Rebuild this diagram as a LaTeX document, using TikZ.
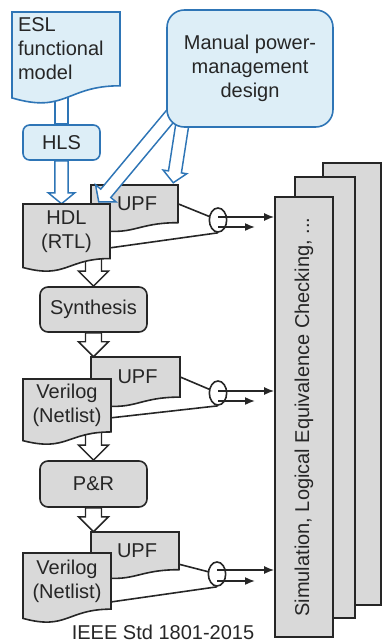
\documentclass[tikz,border=0pt]{standalone}
\usepackage{fontspec}
\setmainfont{Liberation Sans}
\usetikzlibrary{shapes.geometric,calc,arrows.meta}

\definecolor{flowgrey}{RGB}{217,217,217}
\definecolor{flowblue}{RGB}{46,117,182}
\definecolor{flowsky}{RGB}{221,238,247}
\definecolor{flowink}{RGB}{38,38,38}

\pgfdeclarelayer{back}
\pgfdeclarelayer{fore}
\pgfsetlayers{back,main,fore}

\tikzset{
  greyshape/.style={draw=flowink, fill=flowgrey, line width=1.2pt},
  blueshape/.style={draw=flowblue, fill=flowsky, line width=1.2pt},
  greyhollow/.style={draw=flowink, fill=white, line width=1.1pt},
  bluehollow/.style={draw=flowblue, fill=white, line width=1.1pt},
  boxtext/.style={font=\fontsize{15}{18}\selectfont, text=flowink, align=center, inner sep=0pt},
  procbox/.style={greyshape, boxtext, rounded corners=6pt},
  stackbox/.style={greyshape, boxtext, rectangle},
  joint/.style={ellipse, draw=flowink, fill=white, line width=1.2pt, minimum width=13pt, minimum height=18pt, inner sep=0pt},
  flowline/.style={draw=flowink, line width=1.2pt},
  flowarrow/.style={flowline, -{Latex[length=7.5pt,width=6pt]}},
}

% document outline: style, left, top, right, height
\newcommand{\docshape}[5]{%
  \filldraw[#1] (#2,#3) -- (#4,#3) -- (#4,{#3+0.802*#5})
    .. controls ({(#2+#4)/2},{#3+0.802*#5}) and ({(#2+#4)/2},{#3+1.107*#5}) .. (#2,{#3+0.934*#5}) -- cycle;}

% hollow block arrow: style, from, to, shaft half-width, head half-width, head length
\newcommand{\blockarrow}[6]{%
  \coordinate (ba-base) at ($(#3)!#6!(#2)$);
  \filldraw[#1] ($(#2)!#4!90:(#3)$) -- ($(ba-base)!#4!90:(#3)$) -- ($(ba-base)!#5!90:(#3)$) -- (#3)
    -- ($(ba-base)!#5!-90:(#3)$) -- ($(ba-base)!#4!-90:(#3)$) -- ($(#2)!#4!-90:(#3)$) -- cycle;}

\begin{document}
\begin{tikzpicture}[x=0.75pt,y=0.75pt,yscale=-1,xscale=1]
    \useasboundingbox (0,0) rectangle (382,643);

    %Shape: stacked tool boxes
    \node[stackbox, minimum width=331.5pt, minimum height=43.5pt, rotate=90] (stackC) at (352,384) {};
    \node[stackbox, minimum width=330.75pt, minimum height=45pt, rotate=90] (stackB) at (325,397.5) {};
    \node[stackbox, minimum width=330pt, minimum height=43.5pt, rotate=90] (front) at (304,417) {Simulation, Logical Equivalence Checking, ...};

    %Shape: ESL document
    \docshape{blueshape}{12}{12}{120}{92}
    \node[boxtext, align=left, text width=72pt, minimum height=55.3pt] (esl) at (66,48.9) {ESL\\functional\\model};
    %Shape: HLS
    \node[boxtext, blueshape, rounded corners=5pt, minimum width=57.75pt, minimum height=26.25pt] (hls) at (61.5,142.5) {HLS};

    %Shape: manual design (kept on top of its arrows)
    \begin{pgfonlayer}{fore}
    \node[boxtext, blueshape, rounded corners=13pt, minimum width=124.5pt, minimum height=87.75pt] (manual) at (250,68.5) {Manual power-\\management\\design};
    \end{pgfonlayer}

    %Shape: tool steps
    \node[procbox, minimum width=80.25pt, minimum height=33.75pt] (synth) at (93.5,309.5) {Synthesis};
    \node[procbox, minimum width=80.25pt, minimum height=34.5pt] (pr) at (93.5,484) {P\&R};

    %Shape: UPF + HDL
    \docshape{greyshape}{91}{185}{178}{47}
    \node[boxtext, minimum width=61.5pt, minimum height=28.3pt] (upfA) at (137,203.9) {UPF};
    \docshape{greyshape}{23}{204}{110}{68}
    \node[boxtext, minimum width=65.25pt, minimum height=40.9pt] (hdl) at (66.5,231.3) {HDL\\(RTL)};

    %Block arrows: manual design into UPF
    \coordinate (tipA) at ($(upfA.north west)+(3,17)$);
    \coordinate (tipB) at ($(upfA.north east)+(-5,-2)$);
    \coordinate (rootA) at ($(manual.212)!-12pt!(tipA)$);
    \coordinate (rootB) at ($(manual.221)!-12pt!(tipB)$);
    \blockarrow{bluehollow}{rootA}{tipA}{4.9pt}{10pt}{8.25pt}
    \blockarrow{bluehollow}{rootB}{tipB}{4.9pt}{9pt}{8.25pt}

    %Shape: UPF + netlist after synthesis
    \docshape{greyshape}{91}{357}{180}{50}
    \node[boxtext, minimum width=63.75pt, minimum height=30pt] (upfB) at (137.5,377) {UPF};
    \docshape{greyshape}{23}{379}{111}{66}
    \node[boxtext, minimum width=66pt, minimum height=39.7pt] (verA) at (67,405.5) {Verilog\\(Netlist)};

    %Shape: UPF + netlist after P&R
    \docshape{greyshape}{91}{532}{179}{47}
    \node[boxtext, minimum width=63pt, minimum height=28.3pt] (upfC) at (137,550.9) {UPF};
    \docshape{greyshape}{23}{553}{111}{70}
    \node[boxtext, minimum width=66pt, minimum height=42pt] (verB) at (67,581) {Verilog\\(Netlist)};

    %Shape: joints
    \node[joint] (ellA) at (218,220) {};
    \node[joint] (ellB) at (218,393) {};
    \node[joint] (ellC) at (217,574) {};

    %Arrows: out to the tools (front.north is its left side)
    \coordinate (outA) at ($(ellA.center)+(0,-3)$);
    \coordinate (outB) at ($(ellB.center)+(0,-2)$);
    \coordinate (outC) at ($(ellC.center)+(0,-4)$);
    \draw[flowarrow] (outA) -- (outA -| front.north);
    \draw[flowarrow] ($(ellA.center)+(0,7)$) -- ++(37,0);
    \draw[flowarrow] (outB) -- (outB -| front.north);
    \draw[flowarrow] ($(ellB.center)+(0,8)$) -- ++(37,0);
    \draw[flowarrow] (outC) -- (outC -| front.north);
    \draw[flowarrow] ($(ellC.center)+(0,7)$) -- ++(38,0);

    \node[boxtext] (caption) at (163,632) {IEEE Std 1801-2015};

    \begin{pgfonlayer}{back}
    %Block arrows down the flow
    \filldraw[bluehollow] ($(hls.north |- esl.center)+(-6.5,0)$) rectangle ($(hls.north)+(6.5,0)$);
    \blockarrow{bluehollow}{hls.south}{hls.south |- hdl.north}{4.9pt}{10pt}{8.25pt}
    \blockarrow{greyhollow}{synth.north |- hdl.center}{synth.north}{6pt}{11.25pt}{11.25pt}
    \blockarrow{greyhollow}{synth.south}{synth.south |- upfB.north}{6pt}{11.25pt}{11.25pt}
    \blockarrow{greyhollow}{pr.north |- verA.center}{pr.north}{6pt}{11.25pt}{11.25pt}
    \blockarrow{greyhollow}{pr.south}{pr.south |- upfC.north}{6pt}{11.25pt}{11.25pt}
    %Straight Lines into the joints
    \draw[flowline] (upfA.east) -- (ellA.center);
    \draw[flowline] ($(hdl.north east)!0.8!(hdl.south east)$) -- (ellA.south);
    \draw[flowline] (upfB.east) -- (ellB.center);
    \draw[flowline] ($(verA.north east)!0.73!(verA.south east)$) -- (ellB.south);
    \draw[flowline] ($(upfC.north east)!0.85!(upfC.south east)$) -- (ellC.center);
    \draw[flowline] ($(verB.north east)!0.87!(verB.south east)$) -- (ellC.south);
    \end{pgfonlayer}

\end{tikzpicture}
\end{document}
